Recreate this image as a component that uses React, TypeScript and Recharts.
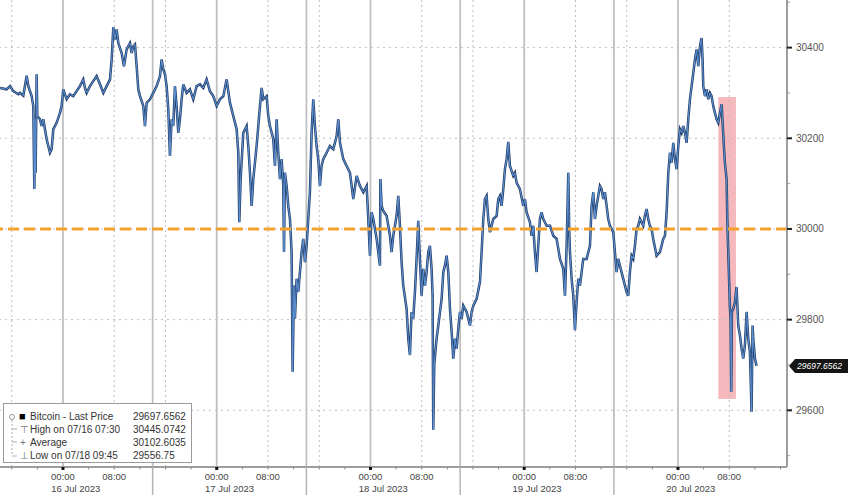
import { LineChart, Line, XAxis, YAxis, ReferenceLine, ReferenceArea, ReferenceDot } from "recharts";

// hours since 16 Jul 2023 00:00
const hours = [
  -9.83, -8.79, -8.27, -7.75, -6.97, -6.71, -6.19, -5.67, -5.41, -4.89,
  -4.63, -4.47, -4.37, -4.27, -4.11, -4.01, -3.59, -3.33, -3.07, -2.55,
  -2.03, -1.77, -1.51, -0.99, -0.47, -0.21, 0.05, 0.57, 1.09, 1.61,
  2.13, 2.65, 3.17, 3.43, 3.69, 4.21, 4.73, 5.25, 5.78, 6.3,
  6.82, 7.34, 7.6, 7.86, 8.12, 8.38, 8.64, 9.16, 9.52, 9.94,
  10.46, 10.72, 10.98, 11.24, 11.5, 11.76, 12.02, 12.54, 12.8, 13.06,
  13.58, 14.1, 14.62, 15.14, 15.4, 15.66, 15.92, 16.18, 16.44, 16.7,
  16.96, 17.22, 17.48, 17.74, 18.0, 18.26, 18.52, 18.78, 19.3, 19.82,
  20.34, 20.86, 21.38, 21.9, 22.42, 22.94, 23.46, 23.99, 24.51, 25.03,
  25.55, 26.07, 26.59, 27.11, 27.37, 27.52, 27.73, 28.15, 28.67, 28.93,
  29.19, 29.45, 29.71, 30.23, 30.75, 31.01, 31.27, 31.79, 32.05, 32.31,
  32.83, 33.09, 33.35, 33.61, 33.87, 34.13, 34.39, 34.5, 34.65, 34.91,
  35.17, 35.43, 35.69, 35.85, 36.06, 36.21, 36.47, 36.73, 36.99, 37.25,
  37.51, 37.77, 38.03, 38.29, 38.55, 38.81, 39.07, 39.33, 39.59, 39.85,
  40.11, 40.37, 40.63, 41.15, 41.67, 42.2, 42.72, 42.98, 43.24, 43.76,
  44.28, 44.8, 45.32, 45.84, 46.36, 46.88, 47.4, 47.66, 47.92, 48.18,
  48.44, 48.96, 49.48, 49.55, 49.74, 50.0, 50.52, 51.04, 51.3, 51.56,
  52.08, 52.34, 52.6, 52.86, 53.12, 53.64, 53.9, 54.16, 54.42, 54.68,
  54.94, 55.2, 55.46, 55.72, 55.98, 56.24, 56.5, 56.76, 57.02, 57.28,
  57.54, 57.7, 57.8, 57.96, 58.32, 58.59, 58.85, 59.11, 59.37, 59.63,
  59.89, 60.15, 60.41, 60.67, 60.93, 61.19, 61.45, 61.71, 61.97, 62.23,
  62.49, 62.75, 63.01, 63.53, 63.79, 64.05, 64.57, 65.09, 65.35, 65.61,
  65.87, 66.13, 66.39, 66.65, 67.17, 67.69, 67.95, 68.21, 68.47, 68.73,
  68.99, 69.25, 69.51, 69.77, 70.29, 70.55, 70.81, 71.33, 71.85, 72.11,
  72.37, 72.89, 73.15, 73.41, 73.67, 73.93, 74.19, 74.45, 74.71, 74.97,
  75.5, 76.02, 76.54, 77.06, 77.58, 78.1, 78.36, 78.62, 78.88, 79.03,
  79.14, 79.4, 79.66, 79.92, 80.18, 80.44, 80.7, 80.96, 81.22, 81.74,
  82.26, 82.52, 82.78, 83.04, 83.3, 83.82, 84.08, 84.34, 84.6, 84.86,
  85.12, 85.38, 85.9, 86.16, 86.42, 86.68, 86.94, 87.46, 87.98, 88.24,
  88.5, 88.76, 89.02, 89.28, 89.54, 89.8, 90.06, 90.58, 90.84, 91.1,
  91.36, 91.62, 91.88, 92.14, 92.66, 93.18, 93.44, 93.7, 93.97, 94.23,
  94.49, 94.75, 95.01, 95.27, 95.53, 95.79, 96.05, 96.31, 96.57, 96.83,
  97.09, 97.35, 97.61, 97.87, 98.13, 98.39, 98.65, 98.91, 99.17, 99.43,
  99.69, 99.84, 99.95, 100.21, 100.47, 100.73, 100.99, 101.25, 101.51, 101.77,
  102.03, 102.29, 102.55, 102.81, 102.97, 103.17, 103.33, 103.59, 103.7, 103.85,
  104.01, 104.11, 104.21, 104.32, 104.42, 104.63, 104.89, 105.15, 105.41, 105.67,
  105.93, 106.19, 106.45, 106.71, 106.97, 107.23, 107.49, 107.65, 107.75, 108.01,
  108.27,
];

const prices = [
  30311, 30308, 30315, 30304, 30297, 30300, 30294, 30338, 30315, 30293,
  30271, 30088, 30242, 30124, 30341, 30249, 30242, 30227, 30242, 30198,
  30168, 30176, 30220, 30234, 30256, 30271, 30308, 30286, 30297, 30293,
  30304, 30315, 30330, 30311, 30300, 30315, 30326, 30337, 30319, 30300,
  30315, 30330, 30374, 30445, 30418, 30440, 30410, 30388, 30359, 30396,
  30410, 30388, 30403, 30407, 30359, 30308, 30293, 30271, 30227, 30278,
  30286, 30300, 30315, 30337, 30374, 30352, 30341, 30315, 30264, 30161,
  30242, 30227, 30315, 30271, 30212, 30242, 30286, 30319, 30300, 30308,
  30286, 30315, 30319, 30311, 30330, 30304, 30293, 30271, 30286, 30293,
  30330, 30278, 30249, 30220, 30168, 30015, 30110, 30212, 30227, 30183,
  30124, 30051, 30110, 30183, 30271, 30311, 30286, 30293, 30249, 30227,
  30198, 30139, 30242, 30168, 30110, 30154, 30095, 29949, 30124, 30095,
  30051, 30022, 29949, 29685, 29875, 29802, 29890, 29861, 29905, 29949,
  29978, 29927, 29963, 30022, 30081, 30212, 30286, 30227, 30183, 30154,
  30095, 30139, 30154, 30168, 30183, 30176, 30205, 30242, 30190, 30154,
  30139, 30124, 30066, 30117, 30095, 30081, 30095, 30022, 29941, 30037,
  30022, 29978, 29919, 30110, 30051, 30040, 30029, 29985, 29949, 29985,
  30029, 30073, 30007, 29927, 29875, 29824, 29758, 29722, 29817, 29802,
  29861, 29934, 30018, 29934, 29853, 29912, 29875, 29905, 29949, 29963,
  29912, 29853, 29557, 29700, 29758, 29787, 29817, 29846, 29905, 29919,
  29941, 29905, 29824, 29773, 29714, 29758, 29736, 29780, 29817, 29802,
  29831, 29824, 29817, 29787, 29817, 29831, 29846, 29883, 29949, 30022,
  30066, 30073, 30022, 29993, 30022, 30029, 30066, 30073, 30051, 30088,
  30132, 30154, 30192, 30139, 30117, 30124, 30102, 30088, 30051, 30066,
  30037, 30015, 29985, 30007, 29949, 29905, 29963, 30022, 30037, 30022,
  30007, 30007, 29985, 29978, 29934, 29912, 29853, 29963, 30124, 29993,
  29949, 29890, 29853, 29777, 29839, 29890, 29875, 29905, 29934, 29934,
  29963, 30051, 30081, 30022, 30051, 30095, 30088, 30066, 30081, 30051,
  30022, 30007, 29993, 29949, 29905, 29934, 29919, 29890, 29861, 29853,
  29905, 29941, 29934, 29963, 30000, 30007, 30022, 30007, 30029, 30044,
  30022, 30007, 30000, 29978, 29941, 29949, 29963, 29978, 29985, 30037,
  30124, 30168, 30146, 30190, 30154, 30132, 30183, 30220, 30212, 30227,
  30212, 30190, 30242, 30286, 30315, 30344, 30374, 30396, 30359, 30403,
  30421, 30374, 30315, 30293, 30308, 30286, 30300, 30293, 30271, 30256,
  30242, 30234, 30256, 30275, 30234, 30183, 30146, 30110, 30022, 29949,
  29875, 29824, 29802, 29641, 29817, 29824, 29839, 29872, 29787, 29766,
  29736, 29714, 29743, 29817, 29758, 29729, 29597, 29787, 29758, 29714,
  29698,
];

const data = hours.map((t, i) => ({ t, p: prices[i] }));

const xMin = -9.83;
const xMax = 113.02;
const yMin = 29475;
const yMax = 30505;

const priceTicks = [29500, 29600, 29700, 29800, 29900, 30000, 30100, 30200, 30300, 30400, 30500];
const priceLabels = [29600, 29800, 30000, 30200, 30400];
const dayStarts = [0, 24, 48, 72, 96];
const sessionBreaks = [14, 38, 62, 86];
const dottedHours = [-8, 8, 16, 32, 40, 56, 64, 80, 88, 104];
const dayNames = ["16 Jul 2023", "17 Jul 2023", "18 Jul 2023", "19 Jul 2023", "20 Jul 2023"];
const dayCenters = [2, 26, 50, 74, 98];
const fourHourTicks = [-8, -4, 0, 4, 8, 12, 16, 20, 24, 28, 32, 36, 40, 44, 48, 52, 56, 60, 64, 68, 72, 76, 80, 84, 88, 92, 96, 100, 104, 108, 112];

const level = 30000;
const lastPrice = 29697.6562;
const boxFrom = 102.3;
const boxTo = 105.05;
const boxTop = 30291;
const boxBottom = 29625;

const legendRows = [
  { mark: "■", label: "Bitcoin - Last Price", value: "29697.6562" },
  { mark: "⊤", label: "High on 07/16 07:30", value: "30445.0742" },
  { mark: "+", label: "Average", value: "30102.6035" },
  { mark: "⊥", label: "Low on 07/18 09:45", value: "29556.75" },
];

const FONT = "'Liberation Sans', Arial, sans-serif";
const xTicks = [...fourHourTicks, ...dayCenters, ...sessionBreaks].sort((a, b) => a - b);

function XTick(props: any) {
  const { x, y, payload } = props;
  const v = payload.value;
  if (sessionBreaks.includes(v)) {
    return <line x1={x} x2={x} y1={y} y2={y + 30} stroke="#b4b4b4" strokeWidth={1.5} />;
  }
  const di = dayCenters.indexOf(v);
  if (di >= 0) {
    return (
      <text x={x} y={y + 25} textAnchor="middle" fontSize={9.5} fill="#444" fontFamily={FONT}>
        {dayNames[di]}
      </text>
    );
  }
  const h = ((v % 24) + 24) % 24;
  return (
    <g>
      <line x1={x} x2={x} y1={y} y2={y + (h === 0 ? 3 : 2.5)} stroke={h === 0 ? "#111" : "#888"} strokeWidth={h === 0 ? 3 : 1} />
      {h === 0 && (
        <text x={x} y={y + 13} textAnchor="middle" fontSize={9.5} fill="#444" fontFamily={FONT}>00:00</text>
      )}
      {h === 8 && (
        <text x={x} y={y + 13} textAnchor="middle" fontSize={9.5} fill="#444" fontFamily={FONT}>08:00</text>
      )}
    </g>
  );
}

function YTick(props: any) {
  const { x, y, payload } = props;
  const major = priceLabels.includes(payload.value);
  if (!major) return <line x1={x} x2={x + 3} y1={y} y2={y} stroke="#999" strokeWidth={1} />;
  return (
    <g>
      <line x1={x} x2={x + 5} y1={y} y2={y} stroke="#222" strokeWidth={2} />
      <text x={x + 9} y={y + 3.5} fontSize={10} fill="#555" fontFamily={FONT}>{payload.value}</text>
    </g>
  );
}

function LastTag(props: any) {
  const { cx, cy } = props;
  return (
    <g>
      <path d={`M${cx + 2},${cy} L${cx + 8},${cy - 7} L${cx + 61},${cy - 7} L${cx + 61},${cy + 7} L${cx + 8},${cy + 7} Z`} fill="#151515" />
      <text x={cx + 10} y={cy + 3} fontSize={8.5} fontStyle="italic" fill="#fff" fontFamily={FONT}>{lastPrice.toFixed(4)}</text>
    </g>
  );
}

export default function App() {
  return (
    <div style={{ position: "absolute", left: 0, top: 0, width: 848, height: 495, background: "#fff", fontFamily: FONT }}>
      <LineChart width={848} height={495} data={data} margin={{ top: 0, right: 0, bottom: 0, left: 0 }}>
        {dottedHours.map((h) => (
          <ReferenceLine key={"d" + h} x={h} stroke="#bdbdbd" strokeDasharray="2 3" strokeWidth={1} />
        ))}
        {priceLabels.map((p) => (
          <ReferenceLine key={"h" + p} y={p} stroke="#bdbdbd" strokeDasharray="2 4" strokeWidth={1} />
        ))}
        {dayStarts.map((h) => (
          <ReferenceLine key={"s" + h} x={h} stroke="#c0c0c0" strokeWidth={1.8} />
        ))}
        {sessionBreaks.map((h) => (
          <ReferenceLine key={"b" + h} x={h} stroke="#c0c0c0" strokeWidth={1.8} />
        ))}
        <XAxis
          type="number"
          dataKey="t"
          domain={[xMin, xMax]}
          allowDataOverflow
          ticks={xTicks}
          interval={0}
          height={28}
          tickSize={0}
          tickMargin={0}
          tickLine={false}
          tick={<XTick />}
          axisLine={{ stroke: "#9d9d9d", strokeWidth: 2 }}
        />
        <YAxis
          orientation="right"
          type="number"
          domain={[yMin, yMax]}
          allowDataOverflow
          ticks={priceTicks}
          interval={0}
          width={61}
          tickSize={0}
          tickMargin={0}
          tickLine={false}
          tick={<YTick />}
          axisLine={{ stroke: "#9d9d9d", strokeWidth: 2 }}
        />
        <Line type="linear" dataKey="p" stroke="#233f69" strokeWidth={2.5} strokeLinejoin="miter" dot={false} activeDot={false} isAnimationActive={false} />
        <Line type="linear" dataKey="p" stroke="#5f93d6" strokeWidth={1} dot={false} activeDot={false} isAnimationActive={false} />
        <ReferenceArea x1={boxFrom} x2={boxTo} y1={boxBottom} y2={boxTop} fill="#ee8891" fillOpacity={0.6} stroke="none" />
        <ReferenceLine y={level} stroke="#f2a12c" strokeWidth={3} strokeDasharray="11 5" />
        <ReferenceDot x={xMax} y={lastPrice} r={0} shape={<LastTag />} />
      </LineChart>
      <div
        style={{
          position: "absolute",
          left: 3,
          top: 403,
          width: 189,
          height: 60,
          boxSizing: "border-box",
          border: "1px solid #9a9a9a",
          background: "#fff",
          fontSize: 10,
          color: "#333",
          lineHeight: "13px",
          paddingTop: 6,
        }}
      >
        <svg width={20} height={60} style={{ position: "absolute", left: 0, top: 0 }}>
          <line x1={8} x2={8} y1={16} y2={52} stroke="#b0b0b0" strokeDasharray="2 2" />
          <circle cx={8} cy={13} r={2.5} fill="none" stroke="#999" />
          {[25, 38, 52].map((yy) => (
            <line key={yy} x1={8} x2={13} y1={yy} y2={yy} stroke="#b0b0b0" />
          ))}
        </svg>
        {legendRows.map((r, i) => (
          <div key={i} style={{ position: "relative", height: 13, whiteSpace: "nowrap" }}>
            <span style={{ position: "absolute", left: i === 0 ? 15 : 16, fontSize: i === 0 ? 11 : 10, color: i === 0 ? "#000" : "#777" }}>{r.mark}</span>
            <span style={{ position: "absolute", left: 26 }}>{r.label}</span>
            <span style={{ position: "absolute", left: 129 }}>{r.value}</span>
          </div>
        ))}
      </div>
    </div>
  );
}
